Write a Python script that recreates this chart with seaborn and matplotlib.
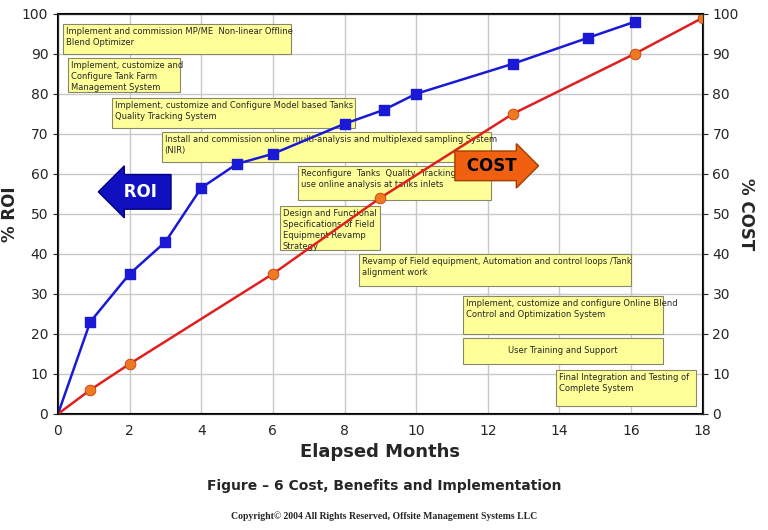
import matplotlib
matplotlib.use("Agg")
import matplotlib.pyplot as plt
import seaborn as sns
import pandas as pd

roi_months = [0, 0.9, 2, 3, 4, 5, 6, 8, 9.1, 10, 12.7, 14.8, 16.1]
roi_values = [0, 23, 35, 43, 56.5, 62.5, 65, 72.5, 76, 80, 87.5, 94, 98]
cost_months = [0, 0.9, 2, 6, 9, 12.7, 16.1, 18]
cost_values = [0, 6, 12.5, 35, 54, 75, 90, 99]

# task boxes: label, x0, x1, y_top, y_bottom
tasks = [
    ("Implement and commission MP/ME  Non-linear Offline\nBlend Optimizer", 0.14, 6.5, 97.5, 90),
    ("Implement, customize and\nConfigure Tank Farm\nManagement System", 0.28, 3.4, 89, 80.5),
    ("Implement, customize and Configure Model based Tanks\nQuality Tracking System", 1.5, 8.3, 79, 71.5),
    ("Install and commission online multi-analysis and multiplexed sampling System\n(NIR)", 2.9, 12.1, 70.5, 63),
    ("Reconfigure  Tanks  Quality  Tracking  System to\nuse online analysis at tanks inlets", 6.7, 12.1, 62, 53.5),
    ("Design and Functional\nSpecifications of Field\nEquipment Revamp\nStrategy", 6.2, 9.0, 52, 41),
    ("Revamp of Field equipment, Automation and control loops /Tank\nalignment work", 8.4, 16.0, 40, 32),
    ("Implement, customize and configure Online Blend\nControl and Optimization System", 11.3, 16.9, 29.5, 20),
    ("User Training and Support", 11.3, 16.9, 19, 12.5),
    ("Final Integration and Testing of\nComplete System", 13.9, 17.8, 11, 2),
]

sns.set_style("white")
fig = plt.figure(figsize=(7.68, 5.30), dpi=100)
ax = fig.add_axes([0.0755, 0.219, 0.8395, 0.755])

for label, x0, x1, yt, yb in tasks:
    ax.add_patch(plt.Rectangle((x0, yb), x1 - x0, yt - yb, facecolor="#ffff99",
                               edgecolor="#888866", lw=0.8, zorder=2))
    if label == "User Training and Support":
        ax.text((x0 + x1) / 2, (yt + yb) / 2, label, ha="center", va="center",
                fontsize=6, zorder=3)
    else:
        ax.text(x0 + 0.08, yt - 0.8, label, ha="left", va="top", fontsize=6,
                linespacing=1.3, zorder=3)

roi = pd.DataFrame({"month": roi_months, "value": roi_values})
cost = pd.DataFrame({"month": cost_months, "value": cost_values})
sns.lineplot(data=roi, x="month", y="value", color="#1a1ad6", lw=1.8, ax=ax, zorder=4)
sns.lineplot(data=cost, x="month", y="value", color="#e02020", lw=1.8, ax=ax, zorder=4)
ax.scatter(roi_months[1:], roi_values[1:], marker="s", s=55, color="#1a1ad6", zorder=5)
ax.scatter(cost_months[1:], cost_values[1:], marker="o", s=60, color="#f07820",
           edgecolor="#c04010", lw=0.6, zorder=5)

ax.text(2.3, 55.5, " ROI ", color="white", fontsize=12, fontweight="bold", ha="center",
        va="center", zorder=6,
        bbox=dict(boxstyle="larrow,pad=0.5", fc="#1010c0", ec="#000080"))
ax.text(12.1, 62, " COST ", color="black", fontsize=12, fontweight="bold", ha="center",
        va="center", zorder=6,
        bbox=dict(boxstyle="rarrow,pad=0.35", fc="#f06010", ec="#a04000"))

ax.set_xlim(0, 18)
ax.set_ylim(0, 100)
ax.set_xticks(range(0, 19, 2))
ax.set_yticks(range(0, 101, 10))
ax.grid(True, color="#c8c8c8", lw=1)
ax.set_axisbelow(True)
for s in ax.spines.values():
    s.set_color("black")
    s.set_linewidth(1.5)
ax.tick_params(labelsize=10)
ax.set_xlabel("Elapsed Months", fontsize=13, fontweight="bold")
ax.set_ylabel("% ROI", fontsize=12, fontweight="bold", labelpad=2)

ax2 = ax.twinx()
ax2.set_ylim(0, 100)
ax2.set_yticks(range(0, 101, 10))
ax2.tick_params(labelsize=10)
ax2.set_ylabel("% COST", fontsize=12, fontweight="bold", rotation=270, labelpad=12)

fig.text(0.5, 0.075, "Figure \u2013 6 Cost, Benefits and Implementation", ha="center",
         fontsize=10, fontweight="bold")
fig.text(0.5, 0.02, "Copyright\u00a9 2004 All Rights Reserved, Offsite Management Systems LLC",
         ha="center", fontsize=7, fontweight="bold", family="Liberation Serif")

fig.savefig("out.png", dpi=100)
